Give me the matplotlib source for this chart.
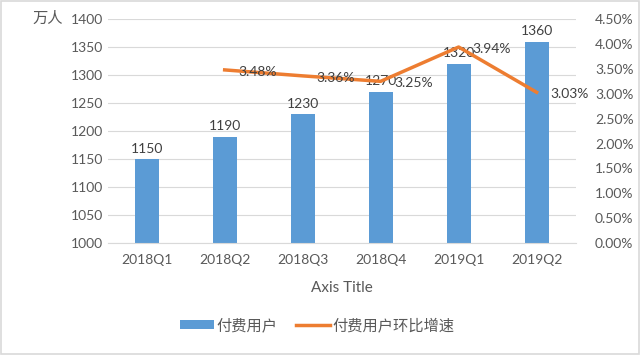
import matplotlib
matplotlib.use('Agg')
import matplotlib.pyplot as plt
from matplotlib.ticker import FuncFormatter

plt.rcParams['font.family'] = ['Lato', 'Noto Sans CJK SC', 'DejaVu Sans']

# data
quarters = ['2018Q1', '2018Q2', '2018Q3', '2018Q4', '2019Q1', '2019Q2']
paid_users = [1150, 1190, 1230, 1270, 1320, 1360]
growth = [None, 3.48, 3.36, 3.25, 3.94, 3.03]

bar_color = '#5B9BD5'
line_color = '#ED7D31'
text_color = '#595959'
grid_color = '#D9D9D9'

fig = plt.figure(figsize=(6.41, 3.55), dpi=100)
ax = fig.add_axes([0.168, 0.3155, 0.73, 0.6305])
ax2 = ax.twinx()

x = list(range(len(quarters)))
ax.bar(x, [v - 1000 for v in paid_users], bottom=1000, width=0.31, color=bar_color, zorder=2,
       label='付费用户')
for i, v in enumerate(paid_users):
    ax.text(i, v + 8, str(v), ha='center', va='bottom', fontsize=10, color='#404040', zorder=5)

ax.set_ylim(1000, 1400)
ax.set_yticks(range(1000, 1401, 50))
ax.set_xlim(-0.5, len(quarters) - 0.5)
ax.set_xticks(x)
ax.set_xticklabels(quarters)
ax.yaxis.grid(True, color=grid_color, linewidth=0.8, zorder=0)
ax.set_axisbelow(True)
for s in ax.spines.values():
    s.set_visible(False)
ax.spines['bottom'].set_visible(True)
ax.spines['bottom'].set_color(grid_color)
ax.tick_params(axis='both', colors=text_color, labelsize=10, length=0)
ax.tick_params(axis='x', pad=8)
ax.set_xlabel('Axis Title', color=text_color, fontsize=11, labelpad=11)

gx = [i for i, g in enumerate(growth) if g is not None]
gy = [g for g in growth if g is not None]
ax2.plot(gx, gy, color=line_color, linewidth=2.5, label='付费用户环比增速', zorder=3)
for xi, yi in zip(gx, gy):
    ax2.text(xi + 0.17, yi - 0.04, '%.2f%%' % yi, ha='left', va='center', fontsize=10,
             color='#404040', zorder=5)
ax2.set_ylim(0, 4.5)
ax2.set_yticks([i * 0.5 for i in range(10)])
ax2.yaxis.set_major_formatter(FuncFormatter(lambda v, p: '%.2f%%' % v))
for s in ax2.spines.values():
    s.set_visible(False)
ax2.tick_params(axis='y', colors=text_color, labelsize=10, length=0, pad=14)

fig.text(0.05, 0.946, '万人', fontsize=11, color=text_color, va='center', ha='left')

h1, l1 = ax.get_legend_handles_labels()
h2, l2 = ax2.get_legend_handles_labels()
fig.legend(h1 + h2, l1 + l2, loc='center', bbox_to_anchor=(0.495, 0.083), ncol=2, frameon=False,
           fontsize=11, labelcolor=text_color, handlelength=2.2, handleheight=0.5, columnspacing=1.2,
           handletextpad=0.2)

fig.patches.append(plt.Rectangle((0.002, 0.003), 0.995, 0.993, transform=fig.transFigure,
                                 fill=False, edgecolor='#D9D9D9', linewidth=1.2))

fig.savefig('out.png', dpi=100, facecolor='white')
